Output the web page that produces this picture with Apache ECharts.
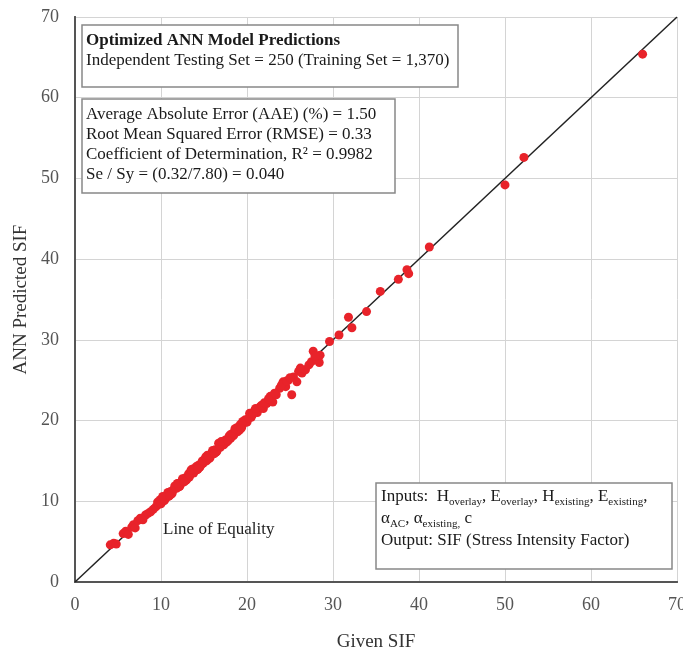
<!DOCTYPE html>
<html>
<head>
<meta charset="utf-8">
<script src="https://cdn.jsdelivr.net/npm/echarts@6/dist/echarts.min.js"></script>
<style>
  html, body { margin: 0; padding: 0; background: #fff; }
  #chart { width: 683px; height: 654px; }
</style>
</head>
<body>
<div id="chart"></div>
<script>
// Given SIF (x) and ANN predicted SIF (y)
const givenSIF = [
  4.1, 4.5, 4.8, 5.6, 5.9, 6.2, 6.6, 6.8, 7.0, 7.3, 7.6, 7.9, 8.2, 8.5, 8.8, 9.1,
  9.4, 9.7, 9.9, 10.1, 10.3, 10.5, 10.7, 10.9, 11.1, 11.3, 11.5, 11.8, 12.0, 12.2,
  12.4, 12.6, 12.8, 13.0, 13.2, 13.4, 13.6, 13.8, 14.0, 14.2, 14.4, 14.6, 14.9,
  15.1, 15.3, 15.5, 15.7, 15.9, 16.1, 16.3, 16.5, 16.7, 16.9, 17.1, 17.3, 17.5,
  17.7, 17.9, 18.1, 18.3, 18.5, 18.7, 18.9, 19.2, 19.4, 19.6, 19.8, 20.0, 20.3,
  20.5, 20.9, 21.2, 21.5, 21.9, 22.3, 22.7, 23.0, 23.4, 23.8, 24.2, 24.5, 24.8,
  25.2, 25.4, 25.8, 26.0, 26.4, 26.8, 27.2, 27.5, 27.7, 28.0, 28.4, 28.5, 29.6,
  30.7, 31.8, 32.2, 33.9, 35.5, 37.6, 38.6, 38.8, 41.2, 50.0, 52.2, 66.0,
  // second layer of the dense band
  9.6, 10.0, 10.4, 10.8, 11.2, 11.6, 12.1, 12.5, 12.9, 13.3, 13.7, 14.1, 14.5,
  14.8, 15.2, 15.6, 16.0, 16.4, 16.8, 17.2, 17.6, 18.0, 18.4, 18.8, 19.1, 19.5,
  20.2, 20.7, 21.0, 21.7, 22.0, 22.5, 23.2, 24.0, 24.6, 25.0, 26.2, 27.9,
  // third layer
  10.2, 11.0, 11.9, 12.7, 13.5, 14.3, 15.4, 16.2, 17.0, 17.8, 18.6, 19.3
];
const predictedSIF = [
  4.6, 4.8, 4.7, 6.0, 6.3, 5.9, 6.8, 7.1, 6.7, 7.6, 7.9, 7.7, 8.3, 8.5, 8.7, 9.0,
  9.3, 9.6, 10.2, 9.9, 10.5, 10.3, 10.8, 10.6, 11.2, 11.0, 11.5, 11.6, 12.2, 11.9,
  12.5, 12.4, 12.9, 12.7, 13.4, 13.3, 13.7, 13.5, 14.1, 13.9, 14.5, 14.4, 14.7,
  15.2, 15.0, 15.6, 15.4, 16.0, 15.9, 16.4, 16.2, 17.2, 16.7, 17.2, 17.0, 17.6,
  17.5, 18.0, 17.8, 18.4, 18.3, 18.9, 18.6, 19.5, 19.2, 19.7, 20.1, 19.8, 20.9,
  20.4, 21.3, 21.0, 21.7, 21.5, 22.1, 23.0, 22.3, 23.2, 24.0, 24.8, 24.2, 25.0,
  23.2, 25.4, 24.8, 26.1, 25.9, 26.3, 26.9, 27.3, 28.6, 27.7, 27.2, 28.1, 29.8,
  30.6, 32.8, 31.5, 33.5, 36.0, 37.5, 38.7, 38.2, 41.5, 49.2, 52.6, 65.4,
  9.9, 9.7, 10.1, 11.1, 10.9, 11.9, 11.8, 12.8, 12.6, 13.0, 14.0, 14.3, 14.2,
  15.0, 15.5, 15.3, 16.3, 16.1, 17.0, 17.4, 17.3, 18.2, 18.1, 19.1, 18.8, 19.9,
  20.3, 20.8, 21.5, 21.9, 22.2, 22.7, 23.4, 24.4, 24.9, 25.3, 26.5, 28.0,
  10.6, 10.7, 12.2, 12.4, 13.9, 14.0, 15.7, 15.9, 17.4, 17.5, 19.0, 19.0
];
const equalityLine = [[0, 0], [70, 70]];
const axisTicks = [0, 10, 20, 30, 40, 50, 60, 70];

const points = givenSIF.map((x, i) => [x, predictedSIF[i]]);

const chart = echarts.init(document.getElementById('chart'));
const serif = 'Liberation Serif';
const ink = '#1a1a1a';

const frameAxis = {
  type: 'value',
  min: axisTicks[0],
  max: axisTicks[axisTicks.length - 1],
  interval: 10,
  axisLine: { show: true, lineStyle: { color: '#555', width: 2 } },
  axisTick: { show: false },
  axisLabel: { show: false },
  splitLine: { show: false }
};

const option = {
  backgroundColor: '#fff',
  animation: false,
  textStyle: { fontFamily: serif },
  grid: { left: 75, right: 6, top: 17, bottom: 72, outerBoundsMode: 'none', containLabel: false },
  xAxis: [{
    type: 'value',
    min: axisTicks[0],
    max: axisTicks[axisTicks.length - 1],
    interval: 10,
    name: 'Given SIF',
    nameLocation: 'middle',
    nameGap: 51,
    nameTextStyle: { fontFamily: serif, fontSize: 19, color: '#333' },
    axisLine: { onZero: false, lineStyle: { color: '#555', width: 2 } },
    axisTick: { show: false },
    axisLabel: { fontFamily: serif, fontSize: 18, color: '#555', margin: 14 },
    splitLine: { show: true, lineStyle: { color: '#d4d4d4', width: 1 } }
  }, Object.assign({ position: 'top' }, frameAxis)],
  yAxis: [{
    type: 'value',
    min: axisTicks[0],
    max: axisTicks[axisTicks.length - 1],
    interval: 10,
    name: 'ANN Predicted SIF',
    nameLocation: 'middle',
    nameGap: 42,
    nameRotate: 90,
    nameTextStyle: { fontFamily: serif, fontSize: 19, color: '#333' },
    axisLine: { onZero: false, lineStyle: { color: '#555', width: 2 } },
    axisTick: { show: false },
    axisLabel: { fontFamily: serif, fontSize: 18, color: '#555', margin: 16 },
    splitLine: { show: true, lineStyle: { color: '#d4d4d4', width: 1 } }
  }, Object.assign({ position: 'right' }, frameAxis)],
  series: [
    {
      type: 'line',
      data: equalityLine,
      symbol: 'none',
      lineStyle: { color: '#222', width: 1.5 },
      z: 3
    },
    {
      type: 'scatter',
      data: points,
      symbol: 'circle',
      symbolSize: 9,
      itemStyle: { color: '#e8232a', opacity: 1 },
      z: 4
    }
  ],
  graphic: [
    // Box 1
    { type: 'rect', shape: { x: 82, y: 25, width: 376, height: 62 },
      style: { fill: '#fff', stroke: '#888', lineWidth: 1.5 }, z: 10 },
    { type: 'text', x: 86, y: 31, z: 11,
      style: {
        text: '{b|Optimized ANN Model Predictions}\n{m|Independent Testing Set = 250 (Training Set = 1,370)}',
        font: '17px ' + serif, fill: ink,
        rich: {
          b: { fontWeight: 'bold', fontSize: 17, fontFamily: serif, lineHeight: 20, color: ink },
          m: { fontSize: 17, fontFamily: serif, lineHeight: 20, color: ink }
        }
      } },
    // Box 2
    { type: 'rect', shape: { x: 82, y: 99, width: 313, height: 94 },
      style: { fill: '#fff', stroke: '#888', lineWidth: 1.5 }, z: 10 },
    { type: 'text', x: 86, y: 105, z: 11,
      style: {
        text: 'Average Absolute Error (AAE) (%) = 1.50\nRoot Mean Squared Error (RMSE) = 0.33\nCoefficient of Determination, R\u00b2 = 0.9982\nSe / Sy = (0.32/7.80) = 0.040',
        font: '17px ' + serif, fill: ink, lineHeight: 20
      } },
    // Box 3
    { type: 'rect', shape: { x: 376, y: 483, width: 296, height: 86 },
      style: { fill: '#fff', stroke: '#888', lineWidth: 1.5 }, z: 10 },
    { type: 'text', x: 381, y: 486, z: 11,
      style: {
        text: '{m|Inputs:  H}{s|overlay}{m|, E}{s|overlay}{m|, H}{s|existing}{m|, E}{s|existing}{m|,}\n' +
              '{m|\u03b1}{s|AC}{m|, \u03b1}{s|existing,}{m| c}\n' +
              '{m|Output: SIF (Stress Intensity Factor)}',
        font: '17px ' + serif, fill: ink,
        rich: {
          m: { fontSize: 17, fontFamily: serif, lineHeight: 22, color: ink },
          s: { fontSize: 11, fontFamily: serif, lineHeight: 22, verticalAlign: 'bottom', color: ink }
        }
      } },
    // Line of Equality label
    { type: 'text', x: 163, y: 521, z: 11,
      style: { text: 'Line of Equality', font: '17px ' + serif, fill: '#222' } }
  ]
};

chart.setOption(option);
window.addEventListener('resize', () => chart.resize());
</script>
</body>
</html>
